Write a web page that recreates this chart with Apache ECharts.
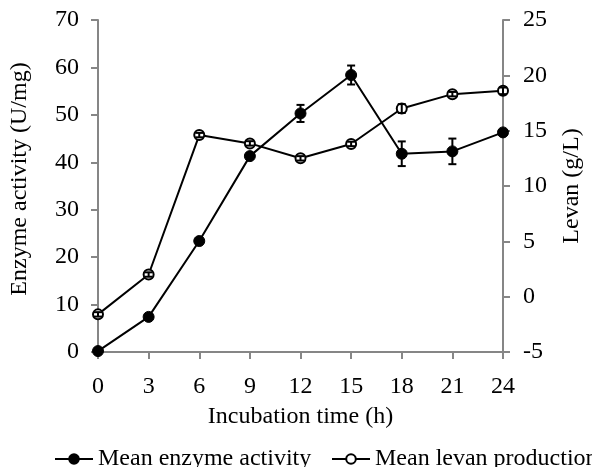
<!DOCTYPE html>
<html>
<head>
<meta charset="utf-8">
<script src="https://cdn.jsdelivr.net/npm/echarts@6/dist/echarts.min.js"></script>
<style>html,body{margin:0;padding:0;background:#fff}#c{width:592px;height:467px}</style>
</head>
<body>
<div id="c"></div>
<script>
var hours = [0, 3, 6, 9, 12, 15, 18, 21, 24];
var enzymeActivity = [0.2, 7.4, 23.4, 41.3, 50.3, 58.4, 41.8, 42.3, 46.3];
var enzymeError = [0.3, 0.5, 0.5, 0.5, 1.8, 2.0, 2.6, 2.7, 0.5];
var levanProduction = [-1.6, 2.0, 14.6, 13.85, 12.5, 13.8, 17.0, 18.3, 18.6];
var levanError = [0.2, 0.2, 0.2, 0.2, 0.2, 0.2, 0.4, 0.2, 0.3];
var seriesNames = ['Mean enzyme activity', 'Mean levan production'];
var xTicks = {min: 0, max: 24, interval: 3};
var leftTicks = {min: 0, max: 70, interval: 10};
var rightTicks = {min: -5, max: 25, interval: 5};

var FONT = '"Liberation Serif", "Times New Roman", serif';
var FS = 24;
var AXIS_COLOR = '#868686';
var TEXT_COLOR = '#000';

function pairs(xs, ys, es) {
  return xs.map(function (x, i) { return es ? [x, ys[i], es[i]] : [x, ys[i]]; });
}

function errorRender(params, api) {
  var x = api.value(0), y = api.value(1), e = api.value(2);
  var top = api.coord([x, y + e]);
  var bot = api.coord([x, y - e]);
  var hw = 4;
  var st = {stroke: '#000', lineWidth: 2};
  return {
    type: 'group',
    children: [
      {type: 'line', shape: {x1: top[0], y1: top[1], x2: bot[0], y2: bot[1]}, style: st},
      {type: 'line', shape: {x1: top[0] - hw, y1: top[1], x2: top[0] + hw, y2: top[1]}, style: st},
      {type: 'line', shape: {x1: bot[0] - hw, y1: bot[1], x2: bot[0] + hw, y2: bot[1]}, style: st}
    ]
  };
}

var chart = echarts.init(document.getElementById('c'), null, {renderer: 'canvas'});
var axisCommon = {
  axisLine: {show: true, onZero: false, lineStyle: {color: AXIS_COLOR, width: 2}},
  axisTick: {show: true, inside: false, length: 7, lineStyle: {color: AXIS_COLOR, width: 2}},
  splitLine: {show: false},
  nameLocation: 'middle',
  nameTextStyle: {fontFamily: FONT, fontSize: FS, color: TEXT_COLOR}
};
var legendCommon = {
  top: 442, orient: 'horizontal',
  itemWidth: 38, itemHeight: 12,
  textStyle: {fontFamily: FONT, fontSize: FS, color: TEXT_COLOR}
};
chart.setOption({
  animation: false,
  backgroundColor: '#fff',
  textStyle: {fontFamily: FONT},
  grid: {left: 97, right: 88, top: 20, bottom: 115, containLabel: false},
  legend: [
    Object.assign({}, legendCommon, {left: 49, data: [seriesNames[0]]}),
    Object.assign({}, legendCommon, {left: 326, data: [seriesNames[1]]})
  ],
  xAxis: Object.assign({}, axisCommon, {
    type: 'value', min: xTicks.min, max: xTicks.max, interval: xTicks.interval,
    name: 'Incubation time (h)', nameGap: 53,
    axisLabel: {margin: 23, fontFamily: FONT, fontSize: FS, color: TEXT_COLOR}
  }),
  yAxis: [
    Object.assign({}, axisCommon, {
      type: 'value', position: 'left', min: leftTicks.min, max: leftTicks.max, interval: leftTicks.interval,
      name: 'Enzyme activity (U/mg)', nameGap: 66,
      nameTextStyle: {fontFamily: FONT, fontSize: FS, color: TEXT_COLOR, padding: [0, 0, 0, 14]},
      axisLabel: {margin: 19, fontFamily: FONT, fontSize: FS, color: TEXT_COLOR}
    }),
    Object.assign({}, axisCommon, {
      type: 'value', position: 'right', min: rightTicks.min, max: rightTicks.max, interval: rightTicks.interval,
      name: 'Levan (g/L)', nameGap: 57,
      axisLabel: {margin: 20, fontFamily: FONT, fontSize: FS, color: TEXT_COLOR}
    })
  ],
  series: [
    {
      name: seriesNames[0], type: 'line', yAxisIndex: 0,
      data: pairs(hours, enzymeActivity),
      symbol: 'circle', symbolSize: 11,
      lineStyle: {color: '#000', width: 2},
      itemStyle: {color: '#000', borderColor: '#000', borderWidth: 1},
      z: 3
    },
    {
      name: seriesNames[1], type: 'line', yAxisIndex: 1,
      data: pairs(hours, levanProduction),
      symbol: 'emptyCircle', symbolSize: 10,
      lineStyle: {color: '#000', width: 2},
      itemStyle: {color: '#000', borderColor: '#000', borderWidth: 2},
      z: 3
    },
    {
      type: 'custom', yAxisIndex: 0, renderItem: errorRender,
      data: pairs(hours, enzymeActivity, enzymeError), z: 5, silent: true
    },
    {
      type: 'custom', yAxisIndex: 1, renderItem: errorRender,
      data: pairs(hours, levanProduction, levanError), z: 5, silent: true
    }
  ]
});
</script>
</body>
</html>
